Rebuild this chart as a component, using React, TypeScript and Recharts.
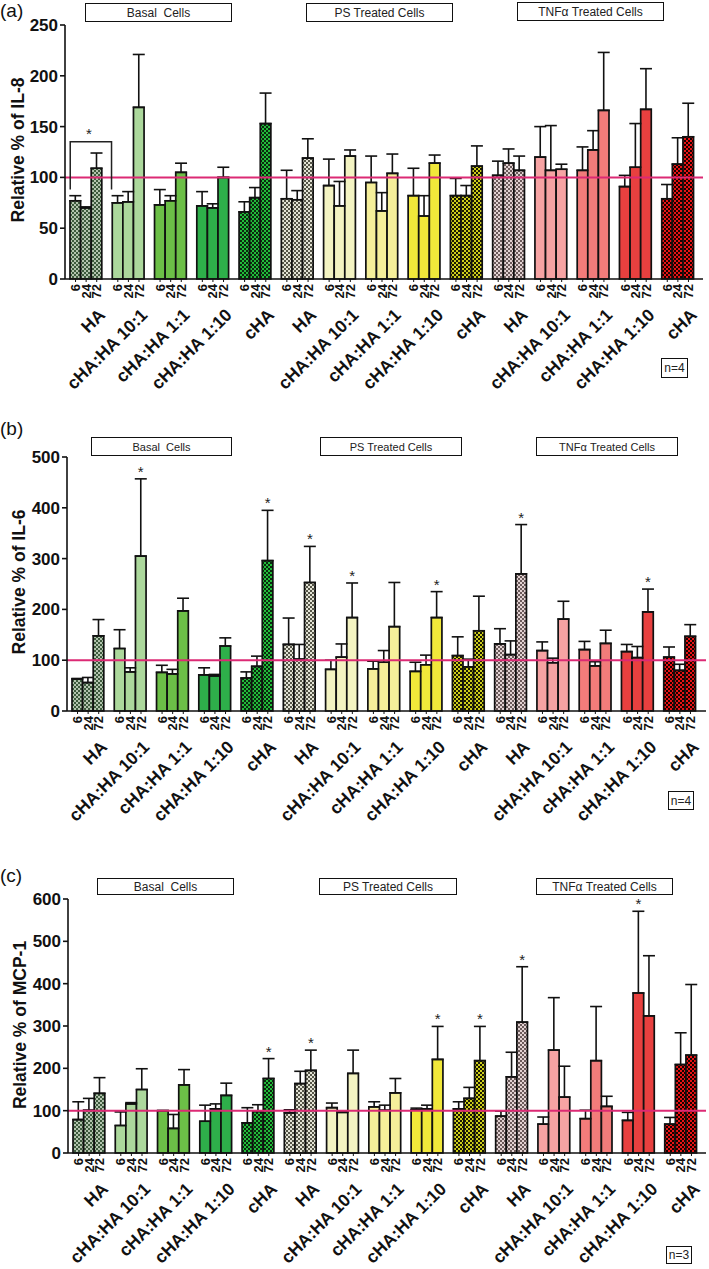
import React from "react";
import {
  BarChart,
  Bar,
  XAxis,
  YAxis,
  Cell,
  ErrorBar,
  ReferenceLine,
  LabelList,
} from "recharts";

const FONT = "'Liberation Sans', Arial, Helvetica, sans-serif";
const BAR = 10.6;

const groupNames = ["HA", "cHA:HA 10:1", "cHA:HA 1:1", "cHA:HA 1:10", "cHA"];
const conditions = ["Basal", "PS", "TNF"];
const timePoints = ["6", "24", "72"];
const groupKeys = conditions.flatMap((c) => groupNames.map((g) => `${c} ${g}`));

// IL-8 (panel a): mean and SEM per time point
const il8_6 = [77, 75, 73, 72, 66, 79, 92, 95, 82, 82, 102, 120, 107, 91, 79];
const il8_24 = [70, 76, 77, 70, 80, 78, 72, 67, 62, 82, 114, 107, 127, 110, 113];
const il8_72 = [109, 169, 105, 100, 153, 119, 121, 104, 114, 111, 107, 108, 166, 167, 140];
const il8_err6 = [5, 7, 15, 14, 10, 28, 26, 26, 27, 17, 14, 30, 23, 11, 14];
const il8_err24 = [1, 10, 5, 4, 10, 9, 24, 18, 20, 10, 14, 44, 19, 43, 26];
const il8_err72 = [15, 52, 9, 10, 30, 19, 6, 19, 8, 20, 14, 5, 57, 40, 33];

// IL-6 (panel b)
const il6_6 = [63, 123, 76, 71, 65, 131, 82, 83, 78, 109, 132, 119, 121, 117, 106];
const il6_24 = [56, 77, 73, 69, 88, 102, 106, 96, 91, 87, 111, 95, 89, 105, 80];
const il6_72 = [148, 305, 197, 128, 296, 253, 184, 166, 184, 158, 270, 181, 133, 195, 147];
const il6_err6 = [1, 37, 14, 14, 12, 52, 18, 15, 18, 37, 30, 17, 16, 14, 20];
const il6_err24 = [10, 8, 9, 3, 20, 29, 26, 23, 19, 15, 27, 9, 8, 22, 12];
const il6_err72 = [32, 152, 25, 16, 99, 71, 68, 87, 51, 68, 97, 35, 26, 45, 23];
const il6_stars72 = [1, 4, 5, 6, 8, 10, 13];

// MCP-1 (panel c)
const mcp_6 = [79, 65, 100, 75, 71, 95, 107, 109, 102, 104, 87, 68, 81, 77, 68];
const mcp_24 = [101, 116, 58, 104, 98, 164, 96, 101, 104, 129, 180, 243, 218, 378, 209];
const mcp_72 = [141, 150, 161, 136, 176, 195, 188, 142, 221, 218, 309, 132, 110, 324, 231];
const mcp_err6 = [42, 32, 0, 38, 36, 7, 11, 12, 4, 17, 12, 17, 20, 19, 16];
const mcp_err24 = [28, 3, 33, 12, 16, 29, 2, 12, 9, 26, 58, 124, 128, 193, 75];
const mcp_err72 = [37, 49, 36, 29, 47, 48, 55, 34, 78, 81, 131, 73, 24, 142, 167];
const mcp_stars24 = [13];
const mcp_stars72 = [4, 5, 8, 9, 10];

const fills = [
  "url(#pBasalHA)", "#acd89c", "#6cbf47", "#2eaf4a", "url(#pBasalCHA)",
  "url(#pPsHA)", "#f3f3c2", "#f5ef9a", "#f1e83a", "url(#pPsCHA)",
  "url(#pTnfHA)", "#f6a3a3", "#f27c7a", "#e8403f", "url(#pTnfCHA)",
];

function Checker({ id, dark, light }: { id: string; dark: string; light: string }) {
  return (
    <pattern id={id} width={4} height={4} patternUnits="userSpaceOnUse">
      <rect width={4} height={4} fill={light} />
      <rect width={2} height={2} fill={dark} />
      <rect x={2} y={2} width={2} height={2} fill={dark} />
    </pattern>
  );
}

// group label rotated 45 degrees, ending just below the time labels
const DIAG = "matrix(0.7071 -0.7071 0.7071 0.7071 20 37)";

function GroupTick(props: any) {
  const x = Number(props.x);
  const y = Number(props.y);
  const name = groupNames[Number(props.index) % 5];
  return (
    <g transform={`translate(${x}, ${y})`}>
      {timePoints.map((t, i) => {
        const dx = (i - 1) * BAR;
        return (
          <g key={t}>
            <line x1={dx} x2={dx} y1={0} y2={3} stroke="#111" strokeWidth={1} />
            <text
              transform={`translate(${dx + 4.5}, 5) rotate(-90)`}
              textAnchor="end"
              fontSize={13}
              fontWeight="bold"
              fontFamily={FONT}
              fill="#111"
            >
              {t}
            </text>
          </g>
        );
      })}
      <g transform={DIAG}>
        <text
          x={0}
          y={0}
          textAnchor="end"
          fontSize={17.5}
          fontWeight="bold"
          fontFamily={FONT}
          fill="#111"
        >
          {name}
        </text>
      </g>
    </g>
  );
}

const starContent = (stars: number[], errs: number[]) => (p: any) => {
  const { x, y, width, height, index, value } = p;
  if (!stars.includes(index) || !value) return null;
  const pxPerUnit = Number(height) / Number(value);
  const top = Number(y) - errs[index] * pxPerUnit;
  return (
    <text
      x={Number(x) + Number(width) / 2}
      y={top - 2}
      textAnchor="middle"
      fontSize={15}
      fontFamily={FONT}
      fill="#222"
    >
      *
    </text>
  );
};

const Bracket = (p: any) => {
  const x1 = Number(p.x1);
  const top = Math.min(Number(p.y1), Number(p.y2));
  const bottom = Math.max(Number(p.y1), Number(p.y2));
  const l = x1 - 1.5 * BAR;
  const r = x1 + 25.4;
  return (
    <g>
      <path d={`M${l},${bottom} V${top} H${r} V${bottom}`} fill="none" stroke="#222" strokeWidth={1.5} />
      <text x={x1 + 2.7} y={top - 3} textAnchor="middle" fontSize={15} fontFamily={FONT} fill="#222">
        *
      </text>
    </g>
  );
};

interface PanelProps {
  top: number;
  height: number;
  marginTop: number;
  xAxisHeight: number;
  yAxisWidth: number;
  rightMargin: number;
  padRight: number;
  values: number[][];
  errs: number[][];
  stars: number[][];
  domain: [number, number];
  ticks: number[];
  bracket?: boolean;
}

function Panel(pp: PanelProps) {
  const rows = groupKeys.map((k, i) => ({
    key: k,
    v6: pp.values[0][i],
    v24: pp.values[1][i],
    v72: pp.values[2][i],
    e6: [0, pp.errs[0][i]],
    e24: [0, pp.errs[1][i]],
    e72: [0, pp.errs[2][i]],
  }));
  const keys = ["6", "24", "72"];
  return (
    <div style={{ position: "absolute", left: 0, top: pp.top, width: 709, height: pp.height }}>
      <BarChart
        width={709}
        height={pp.height}
        data={rows}
        margin={{ top: pp.marginTop, right: pp.rightMargin, bottom: 0, left: 0 }}
        barGap={0}
        barSize={BAR}
      >
        <XAxis
          dataKey="key"
          height={pp.xAxisHeight}
          interval={0}
          tickLine={false}
          tickSize={0}
          tickMargin={0}
          axisLine={{ stroke: "#111", strokeWidth: 1.6 }}
          padding={{ left: 0, right: pp.padRight }}
          tick={<GroupTick />}
        />
        <YAxis
          type="number"
          width={pp.yAxisWidth}
          domain={pp.domain}
          ticks={pp.ticks}
          interval={0}
          tickSize={5}
          tickMargin={2}
          axisLine={{ stroke: "#111", strokeWidth: 1.6 }}
          tickLine={{ stroke: "#111", strokeWidth: 1.6 }}
          tick={{ fill: "#111", fontSize: 17, fontWeight: "bold", fontFamily: FONT }}
        />
        {keys.map((t, s) => (
          <Bar
            key={t}
            dataKey={`v${t}`}
            isAnimationActive={false}
            stroke="#111"
            strokeWidth={1.7}
          >
            {rows.map((r, i) => (
              <Cell key={r.key} fill={fills[i]} />
            ))}
            <ErrorBar
              dataKey={`e${t}`}
              direction="y"
              width={6}
              stroke="#111"
              strokeWidth={1.6}
              isAnimationActive={false}
            />
            <LabelList dataKey={`v${t}`} content={starContent(pp.stars[s], pp.errs[s])} />
          </Bar>
        ))}
        <ReferenceLine y={100} stroke="#dc2a74" strokeWidth={2} />
        {pp.bracket && (
          <ReferenceLine
            segment={[
              { x: groupKeys[0], y: 135 },
              { x: groupKeys[0], y: 88 },
            ]}
            shape={<Bracket />}
          />
        )}
      </BarChart>
    </div>
  );
}

function Box({ left, top, width, height, text, fontSize }: any) {
  return (
    <div
      style={{
        position: "absolute",
        left,
        top,
        width,
        height,
        border: "1.5px solid #111",
        boxSizing: "border-box",
        background: "#fff",
        fontFamily: FONT,
        fontSize,
        color: "#222",
        display: "flex",
        alignItems: "center",
        justifyContent: "center",
        whiteSpace: "pre",
      }}
    >
      {text}
    </div>
  );
}

function Letter({ top, text }: { top: number; text: string }) {
  return (
    <div style={{ position: "absolute", left: 0, top, fontFamily: FONT, fontSize: 19, color: "#111", lineHeight: "20px" }}>
      {text}
    </div>
  );
}

export default function App() {
  return (
    <div style={{ position: "absolute", left: 0, top: 0, width: 709, height: 1269, background: "#fff", overflow: "hidden" }}>
      <svg width={0} height={0} style={{ position: "absolute" }}>
        <defs>
          <Checker id="pBasalHA" dark="#3d5a3d" light="#b3c4ae" />
          <Checker id="pBasalCHA" dark="#0a2a0e" light="#22bb3a" />
          <Checker id="pPsHA" dark="#555548" light="#e3e3d5" />
          <Checker id="pPsCHA" dark="#1a1a00" light="#cdcd1c" />
          <Checker id="pTnfHA" dark="#6a5a5a" light="#e2d2d2" />
          <Checker id="pTnfCHA" dark="#1a0000" light="#e61414" />
        </defs>
      </svg>

      <Panel
        top={0}
        height={410}
        marginTop={25}
        xAxisHeight={131}
        yAxisWidth={65}
        rightMargin={6}
        padRight={4}
        values={[il8_6, il8_24, il8_72]}
        errs={[il8_err6, il8_err24, il8_err72]}
        stars={[[], [], []]}
        domain={[0, 250]}
        ticks={[0, 50, 100, 150, 200, 250]}
        bracket
      />
      <Panel
        top={420}
        height={420}
        marginTop={37}
        xAxisHeight={129}
        yAxisWidth={67}
        rightMargin={3}
        padRight={5}
        values={[il6_6, il6_24, il6_72]}
        errs={[il6_err6, il6_err24, il6_err72]}
        stars={[[], [], il6_stars72]}
        domain={[0, 500]}
        ticks={[0, 100, 200, 300, 400, 500]}
      />
      <Panel
        top={840}
        height={429}
        marginTop={59}
        xAxisHeight={116}
        yAxisWidth={68}
        rightMargin={3}
        padRight={4}
        values={[mcp_6, mcp_24, mcp_72]}
        errs={[mcp_err6, mcp_err24, mcp_err72]}
        stars={[[], mcp_stars24, mcp_stars72]}
        domain={[0, 600]}
        ticks={[0, 100, 200, 300, 400, 500, 600]}
      />

      <svg width={709} height={1269} style={{ position: "absolute", left: 0, top: 0, pointerEvents: "none" }}>
        {[
          { x: 24, y: 150, t: "Relative % of IL-8" },
          { x: 25, y: 582, t: "Relative % of IL-6" },
          { x: 26, y: 1025, t: "Relative % of MCP-1" },
        ].map((a) => (
          <text
            key={a.t}
            transform={`translate(${a.x}, ${a.y}) rotate(-90)`}
            textAnchor="middle"
            fontSize={17.5}
            fontWeight="bold"
            fontFamily={FONT}
            fill="#111"
          >
            {a.t}
          </text>
        ))}
      </svg>

      <Letter top={1} text="(a)" />
      <Letter top={419} text="(b)" />
      <Letter top={866} text="(c)" />

      <Box left={85} top={3} width={147} height={19} fontSize={12} text="Basal  Cells" />
      <Box left={306} top={3} width={147} height={19} fontSize={12} text="PS Treated Cells" />
      <Box left={517} top={2} width={147} height={19} fontSize={12} text="TNFα Treated Cells" />
      <Box left={661} top={358} width={27} height={20} fontSize={12} text="n=4" />

      <Box left={91} top={437} width={141} height={19} fontSize={11} text="Basal  Cells" />
      <Box left={320} top={437} width={142} height={19} fontSize={11} text="PS Treated Cells" />
      <Box left={536} top={437} width={142} height={19} fontSize={11} text="TNFα Treated Cells" />
      <Box left={668} top={791} width={26} height={19} fontSize={12} text="n=4" />

      <Box left={97} top={878} width={137} height={17} fontSize={12} text="Basal  Cells" />
      <Box left={319} top={878} width={138} height={17} fontSize={12} text="PS Treated Cells" />
      <Box left={536} top={878} width={137} height={17} fontSize={12} text="TNFα Treated Cells" />
      <Box left={666} top={1246} width={26} height={18} fontSize={12} text="n=3" />
    </div>
  );
}
